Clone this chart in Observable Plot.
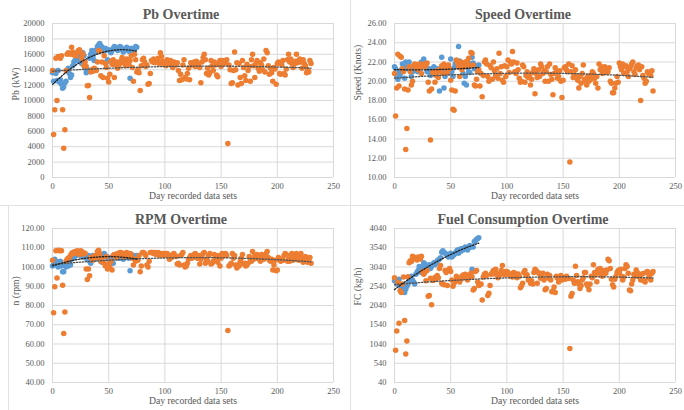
<!DOCTYPE html>
<html>
<head>
<meta charset="utf-8">
<script src="https://cdn.jsdelivr.net/npm/d3@7"></script>
<script src="https://cdn.jsdelivr.net/npm/@observablehq/plot@0.6"></script>
<style>
  body { margin: 0; background: #fff; }
  #board { position: relative; width: 684px; height: 410px; overflow: hidden;
           font-family: "Liberation Serif", "Times New Roman", serif; }
  .panel { position: absolute; width: 342px; height: 205px; }
  .panel svg { position: absolute; left: 0; top: 0; }
  .title { position: absolute; left: 0; width: 362px; top: 7px; text-align: center;
           font-weight: bold; font-size: 14px; line-height: 16px; color: #595959; }
  .rule { position: absolute; background: #e2e2e2; }
</style>
</head>
<body>
<div id="board"></div>
<script>
// Day index of each recorded data set
const orangeDays = d3.range(0, 231);
const blueDays = d3.range(0, 76);
const xTicks = [0, 50, 100, 150, 200, 250];

// Propulsion power Pb (kW)
const pbOrange = [
  13900, 5600, 8800, 15500, 10000, 15700, 15600, 15500, 15800, 8800,
  3800, 6200, 13900, 16000, 16200, 16100, 16000, 16900, 16300, 15900,
  16000, 15800, 16200, 16500, 16600, 16300, 15500, 16000, 14500, 15000,
  14400, 11900, 11950, 10400, 13700, 14000, 13800, 14200, 14100, 13900,
  15000, 16500, 16400, 13200, 15000, 13000, 15800, 14800, 14300, 12900,
  12400, 13400, 15100, 14700, 15300, 13000, 14600, 15000, 14200, 14500,
  14800, 15200, 15600, 14900, 15100, 14500, 15400, 15000, 14700, 15200,
  15800, 14300, 12500, 16000, 15300, 13700, 14000, 13600, 11300, 14500,
  15300, 15500, 15000, 14400, 14600, 12100, 12200, 13500, 15200, 15000,
  15400, 14900, 15300, 15100, 15500, 14800, 16200, 15700, 15100, 14700,
  15000, 14500, 15300, 14700, 14900, 15200, 14600, 14300, 15000, 14800,
  14600, 14900, 13900, 12600, 13400, 12700, 14600, 15300, 13000, 12800,
  13500, 14200, 12700, 14900, 14600, 14800, 15000, 14400, 15100, 14900,
  14700, 14300, 12300, 15000, 15600, 16000, 15300, 13500, 14200, 13300,
  13600, 15200, 14500, 13900, 15000, 14600, 13300, 13100, 14800, 15200,
  14400, 15200, 14800, 15100, 14900, 15300, 4400, 14600, 14000, 12200,
  12300, 13900, 16300, 14000, 14900, 12000, 14800, 13000, 12200, 15200,
  14300, 13200, 12600, 14700, 13900, 14400, 12500, 15300, 16000, 14500,
  13000, 14800, 15200, 14200, 13800, 14900, 14600, 14000, 15400, 13700,
  16500, 16200, 14500, 13400, 14200, 13600, 12500, 14300, 14100, 12100,
  14800, 15000, 13500, 13400, 14600, 15200, 13500, 13300, 14100, 15300,
  16000, 15000, 15400, 14800, 14300, 14700, 15100, 16000, 14900, 15200,
  15400, 15000, 14200, 15300, 14800, 14500, 13600, 14000, 13700, 15200,
  14800
];
const pbBlue = [
  13600, 12500, 13800, 13500, 12600, 13900, 12400, 12700, 12100, 11600,
  11800, 12300, 12500, 13800, 14200, 13500, 13000, 13300, 14500, 15000,
  15200, 15400, 15600, 15100, 16000, 15300, 14800, 16200, 15800, 14200,
  13600, 14000, 13800, 15500, 16000, 16500, 15700, 15200, 16300, 16600,
  17000, 17200, 17400, 17100, 16900, 16600, 16400, 16800, 15000, 15300,
  16600, 16400, 16200, 16500, 16800, 17000, 16900, 16700, 16500, 16800,
  17000, 16900, 16600, 16300, 16500, 16700, 16900, 16600, 16400, 12900,
  16800, 16600, 16400, 16700, 17000, 16900
];

// Ship speed (knots)
const speedOrange = [
  20.8, 16.4, 19.3, 22.8, 19.5, 22.6, 22.5, 21.3, 21.0, 19.2,
  12.9, 15.1, 19.1, 21.5, 21.0, 19.6, 20.0, 21.6, 21.8, 21.4,
  21.6, 21.2, 21.8, 21.5, 20.8, 21.7, 21.8, 21.5, 21.7, 21.9,
  19.9, 19.0, 13.9, 19.2, 20.9, 21.0, 19.9, 20.6, 21.1, 20.4,
  21.2, 21.0, 21.6, 20.8, 21.8, 21.4, 21.5, 20.9, 21.7, 21.3,
  20.1, 19.1, 17.1, 17.0, 19.0, 22.2, 21.9, 21.5, 20.5, 22.0,
  21.2, 21.8, 21.5, 22.0, 21.7, 22.1, 22.4, 21.6, 23.0, 22.9,
  21.7, 19.6, 19.5, 20.2, 21.0, 21.2, 19.5, 20.8, 18.4, 20.6,
  22.0, 22.2, 21.8, 20.5, 20.0, 21.6, 21.4, 20.2, 22.0, 21.1,
  20.6, 21.3, 20.3, 22.9, 20.8, 21.5, 20.1, 19.9, 21.6, 20.5,
  21.5, 22.2, 20.9, 22.0, 21.8, 23.1, 22.0, 21.0, 20.8, 21.9,
  21.2, 20.3, 19.9, 20.0, 21.7, 21.5, 19.9, 20.6, 21.0, 20.4,
  20.6, 19.6, 20.2, 20.9, 21.3, 18.7, 20.8, 20.4, 21.2, 20.5,
  21.8, 21.5, 20.8, 21.1, 20.0, 21.0, 21.5, 20.0, 21.8, 20.7,
  20.2, 18.6, 20.8, 21.4, 21.0, 20.3, 20.5, 21.1, 20.0, 18.3,
  20.1, 21.4, 21.5, 21.2, 21.0, 21.8, 11.6, 21.0, 21.6, 20.4,
  20.7, 21.2, 20.4, 20.1, 19.3, 20.5, 19.8, 20.8, 21.7, 20.2,
  20.0, 19.6, 20.5, 20.0, 20.6, 20.2, 21.0, 20.8, 20.3, 19.8,
  20.5, 19.3, 21.8, 21.2, 21.5, 20.8, 21.0, 21.5, 21.3, 20.9,
  21.0, 21.4, 20.0, 19.8, 18.8, 18.8, 19.3, 19.8, 20.5, 19.9,
  21.9, 21.5, 21.2, 21.8, 20.8, 21.5, 21.6, 21.0, 20.5, 21.3,
  21.5, 21.8, 22.0, 21.0, 20.7, 21.4, 21.6, 21.7, 21.2, 18.0,
  21.5, 20.6, 20.3, 19.8, 20.0, 21.0, 20.8, 20.9, 20.6, 21.1,
  19.0
];
const speedBlue = [
  21.5, 21.3, 20.5, 20.2, 20.9, 20.6, 21.2, 21.8, 21.5, 20.3,
  22.0, 21.3, 21.6, 22.0, 21.4, 20.5, 21.0, 21.3, 21.5, 21.1,
  21.3, 21.0, 21.5, 21.7, 22.0, 21.6, 22.3, 21.8, 21.4, 21.0,
  21.0, 21.3, 20.6, 21.2, 20.8, 21.5, 21.0, 20.7, 21.3, 21.0,
  19.0, 21.3, 22.5, 21.0, 19.3, 20.5, 21.1, 21.5, 21.2, 20.9,
  22.3, 21.0, 20.5, 21.4, 21.8, 22.1, 21.7, 23.6, 22.1, 21.8,
  21.4, 20.8, 19.8, 20.5, 19.6, 21.4, 21.0, 20.9, 21.8, 22.5,
  21.9, 21.3, 21.5, 21.6, 21.2, 21.7
];

// Engine speed n (rpm)
const rpmOrange = [
  103.5, 76.2, 89.8, 108.5, 94.3, 108.7, 108.5, 108.6, 108.4, 90.5,
  65.5, 76.6, 103.0, 104.0, 104.5, 105.0, 106.0, 107.0, 107.5, 107.0,
  108.0, 107.5, 108.5, 107.0, 106.5, 108.5, 108.0, 107.5, 106.8, 107.2,
  99.0, 93.5, 99.0, 95.5, 105.0, 104.5, 103.5, 105.5, 106.0, 105.0,
  108.0, 108.7, 107.0, 103.0, 104.5, 102.5, 102.0, 100.5, 105.5, 99.0,
  101.5, 100.0, 103.0, 98.5, 106.0, 106.5, 106.0, 105.0, 107.0, 106.5,
  107.5, 107.5, 106.5, 105.5, 107.0, 106.0, 107.5, 106.8, 105.5, 107.0,
  106.5, 104.5, 101.0, 104.0, 103.0, 104.0, 103.5, 106.0, 97.5, 100.5,
  107.5, 107.5, 107.0, 106.0, 101.0, 100.0, 103.0, 107.5, 107.5, 107.5,
  107.0, 107.5, 106.5, 107.2, 107.5, 106.0, 107.0, 106.5, 107.0, 106.0,
  107.0, 106.5, 107.0, 106.0, 104.0, 106.0, 105.0, 106.5, 107.0, 106.0,
  105.5, 101.5, 102.0, 101.0, 106.0, 106.5, 107.5, 101.0, 100.0, 100.5,
  102.0, 104.0, 105.0, 106.0, 104.5, 105.5, 106.5, 107.0, 105.0, 104.5,
  106.0, 101.5, 104.0, 105.5, 107.0, 107.5, 102.0, 104.0, 103.0, 106.0,
  107.0, 101.5, 102.0, 103.0, 106.5, 105.0, 104.0, 102.5, 106.0, 100.5,
  104.5, 107.0, 106.0, 106.5, 107.0, 106.0, 67.0, 100.5, 101.0, 102.0,
  107.0, 104.5, 106.0, 101.0, 99.5, 101.0, 100.5, 103.0, 104.5, 106.5,
  101.5, 102.0, 100.5, 101.0, 102.0, 105.5, 104.0, 103.0, 108.0, 104.0,
  106.0, 104.5, 106.5, 105.5, 104.0, 103.0, 106.5, 105.0, 104.0, 106.0,
  107.0, 108.0, 105.0, 103.5, 103.0, 104.0, 98.5, 101.0, 103.5, 98.0,
  98.5, 105.0, 104.0, 103.0, 104.0, 103.5, 106.0, 107.0, 106.5, 103.0,
  104.0, 103.0, 106.0, 107.0, 103.5, 104.5, 106.0, 107.0, 105.0, 103.5,
  105.5, 107.0, 104.5, 102.5, 103.0, 105.5, 105.0, 102.5, 104.0, 105.0,
  102.0
];
const rpmBlue = [
  100.5, 101.0, 104.0, 103.0, 101.0, 100.0, 102.5, 103.0, 100.5, 97.5,
  97.5, 101.0, 100.0, 101.0, 100.5, 102.0, 101.0, 104.0, 106.0, 105.0,
  106.5, 106.0, 107.0, 107.5, 106.5, 106.0, 105.5, 107.0, 106.0, 105.0,
  104.5, 105.0, 106.0, 103.0, 102.0, 105.0, 106.0, 105.5, 104.0, 105.0,
  105.0, 106.0, 105.5, 103.0, 102.5, 106.5, 107.0, 106.0, 105.5, 104.5,
  104.0, 105.0, 103.0, 104.0, 102.0, 105.0, 106.5, 105.5, 104.5, 105.0,
  104.5, 105.5, 106.0, 104.0, 105.5, 106.0, 105.0, 105.5, 104.5, 98.0,
  106.5, 105.5, 106.0, 105.5, 105.0, 106.0
];

// Fuel consumption FC (kg/h)
const fcOrange = [
  2760, 880, 1380, 2640, 1580, 2420, 2380, 2600, 2780, 1650,
  780, 1120, 2790, 3150, 3200, 3180, 3320, 3300, 3280, 3250,
  3220, 3300, 3290, 3250, 3320, 2920, 2850, 2900, 2680, 2950,
  2280, 2300, 2750, 2060, 2690, 2700, 2770, 2720, 2820, 2760,
  3000, 3080, 2620, 2600, 2580, 2950, 2900, 2560, 2960, 3000,
  2920, 2700, 2540, 2620, 2680, 2800, 2760, 2700, 2650, 2720,
  2800, 2830, 2780, 2850, 2820, 2700, 2760, 2840, 2880, 2790,
  2440, 2480, 2920, 2950, 2650, 2560, 2580, 2600, 2180, 2780,
  2850, 2880, 2820, 2300, 2360, 2560, 2850, 2900, 2950, 2860,
  2980, 2880, 2760, 2800, 2850, 2950, 3080, 2900, 2840, 2920,
  2920, 2900, 2840, 2800, 2860, 2780, 2900, 2880, 2820, 2760,
  2860, 2800, 2500, 2550, 2620, 2900, 2950, 2820, 2840, 2700,
  2700, 2620, 2680, 2600, 2900, 2980, 2950, 2620, 2900, 2860,
  2750, 2800, 2880, 2700, 2450, 2480, 2850, 2750, 2820, 2700,
  2400, 2420, 2520, 2380, 2800, 2750, 2650, 2760, 2820, 2700,
  2770, 2750, 2720, 2800, 2760, 2740, 920, 2280, 2350, 2700,
  2620, 3060, 2820, 2660, 2600, 2480, 2560, 2700, 2760, 2900,
  2900, 2600, 2540, 2450, 2600, 2800, 2760, 3100, 2900, 2840,
  2660, 2980, 2900, 3000, 2820, 2800, 2900, 2950, 2880, 2960,
  3240, 3200, 3000, 2720, 2580, 2520, 2720, 2800, 2900, 2950,
  2900, 2980, 2800, 2700, 2780, 3000, 3100, 3050, 2880, 2440,
  2420, 2600, 2700, 2850, 2800, 2960, 2900, 2800, 2780, 2700,
  2850, 2870, 2680, 2650, 2900, 2920, 2760, 2820, 2700, 2880,
  2920
];
const fcBlue = [
  2680, 2700, 2600, 2640, 2720, 2580, 2500, 2400, 2520, 2380,
  2460, 2540, 2600, 2680, 2750, 2800, 2700, 2650, 2600, 2850,
  2900, 2950, 3050, 3000, 2900, 3050, 3150, 3120, 2980, 3050,
  3000, 3100, 3000, 3050, 3100, 3150, 3100, 3150, 3200, 3220,
  3250, 3280, 3420, 3460, 3420, 3400, 3380, 3340, 3300, 3350,
  3400, 3300, 3340, 3360, 3400, 3440, 3480, 3400, 3500, 3450,
  3520, 3480, 3500, 3560, 3500, 3480, 3540, 3600, 3560, 2980,
  3560, 3700, 3720, 3760, 3780, 3800
];

const ORANGE = "#ED7D31";
const BLUE = "#5B9BD5";
const SERIF = "'Liberation Serif', 'Times New Roman', serif";

// Second-order polynomial least-squares trendline
function polyFit2(xs, ys) {
  const s = [0, 0, 0, 0, 0], t = [0, 0, 0];
  xs.forEach((x, i) => {
    let p = 1;
    for (let k = 0; k < 5; k++) { s[k] += p; if (k < 3) t[k] += p * ys[i]; p *= x; }
  });
  const M = [[s[0], s[1], s[2], t[0]], [s[1], s[2], s[3], t[1]], [s[2], s[3], s[4], t[2]]];
  for (let c = 0; c < 3; c++) {
    for (let r = c + 1; r < 3; r++) {
      const f = M[r][c] / M[c][c];
      for (let k = c; k < 4; k++) M[r][k] -= f * M[c][k];
    }
  }
  const coef = [0, 0, 0];
  for (let r = 2; r >= 0; r--) {
    let v = M[r][3];
    for (let k = r + 1; k < 3; k++) v -= M[r][k] * coef[k];
    coef[r] = v / M[r][r];
  }
  return x => coef[0] + coef[1] * x + coef[2] * x * x;
}

function trend(days, values) {
  const f = polyFit2(days, values);
  const lo = d3.min(days), hi = d3.max(days);
  return d3.range(lo, hi + 0.5, 1).map(x => ({x, y: f(x)}));
}

const panels = [
  {left: 0, top: 0, title: "Pb Overtime", ylabel: "Pb (kW)", orange: pbOrange, blue: pbBlue,
   domain: [0, 20000], ticks: d3.range(0, 20001, 2000), fmt: d3.format("d")},
  {left: 342, top: 0, title: "Speed Overtime", ylabel: "Speed (Knots)", orange: speedOrange, blue: speedBlue,
   domain: [10, 26], ticks: d3.range(10, 26.01, 2), fmt: d3.format(".2f")},
  {left: 0, top: 205, title: "RPM Overtime", ylabel: "n (rpm)", orange: rpmOrange, blue: rpmBlue,
   domain: [40, 120], ticks: d3.range(40, 120.01, 10), fmt: d3.format(".2f")},
  {left: 342, top: 205, title: "Fuel Consumption Overtime", ylabel: "FC (kg/h)", orange: fcOrange, blue: fcBlue,
   domain: [40, 4040], ticks: d3.range(40, 4041, 500), fmt: d3.format("d")}
];

const board = document.getElementById("board");

// faint chart-area borders
[[8, 205, 1, 205], [350, 0, 1, 410], [0, 205, 684, 1]].forEach(([l, t, w, h]) => {
  const r = document.createElement("div");
  r.className = "rule";
  Object.assign(r.style, {left: l + "px", top: t + "px", width: w + "px", height: h + "px"});
  board.appendChild(r);
});

for (const p of panels) {
  const orangeRows = orangeDays.map((d, i) => ({day: d, v: p.orange[i]}));
  const blueRows = blueDays.map((d, i) => ({day: d, v: p.blue[i]}));

  const chart = Plot.plot({
    width: 342, height: 205,
    marginLeft: 52, marginRight: 9, marginTop: 23, marginBottom: 28,
    style: {fontFamily: SERIF, fontSize: "8.5px", color: "#595959", background: "transparent"},
    x: {domain: [0, 250]},
    y: {domain: p.domain},
    marks: [
      Plot.gridX(xTicks, {stroke: "#d9d9d9", strokeOpacity: 1}),
      Plot.gridY(p.ticks, {stroke: "#d9d9d9", strokeOpacity: 1}),
      Plot.axisX(xTicks, {tickSize: 0, tickPadding: 5, label: null, fill: "#595959", fontFamily: SERIF}),
      Plot.axisY(p.ticks, {tickSize: 0, tickPadding: 8, tickFormat: p.fmt, label: null, fill: "#595959", fontFamily: SERIF}),
      Plot.dot(blueRows, {x: "day", y: "v", r: 2.75, fill: BLUE, stroke: null}),
      Plot.dot(orangeRows, {x: "day", y: "v", r: 2.75, fill: ORANGE, stroke: null}),
      Plot.line(trend(orangeDays, p.orange), {x: "x", y: "y", stroke: "#555", strokeWidth: 1.3, strokeDasharray: "1.4 1.6"}),
      Plot.line(trend(blueDays, p.blue), {x: "x", y: "y", stroke: "#222", strokeWidth: 1.3, strokeDasharray: "1.4 1.6"}),
      Plot.text([p.ylabel], {text: d => d, frameAnchor: "left", dx: -37, rotate: -90, fontSize: 9.7, fill: "#595959"}),
      Plot.text(["Day recorded data sets"], {text: d => d, frameAnchor: "bottom", dy: 21, fontSize: 9.7, fill: "#595959"})
    ]
  });

  const div = document.createElement("div");
  div.className = "panel";
  div.style.left = p.left + "px";
  div.style.top = p.top + "px";
  div.appendChild(chart);
  const t = document.createElement("div");
  t.className = "title";
  t.textContent = p.title;
  div.appendChild(t);
  board.appendChild(div);
}
</script>
</body>
</html>
